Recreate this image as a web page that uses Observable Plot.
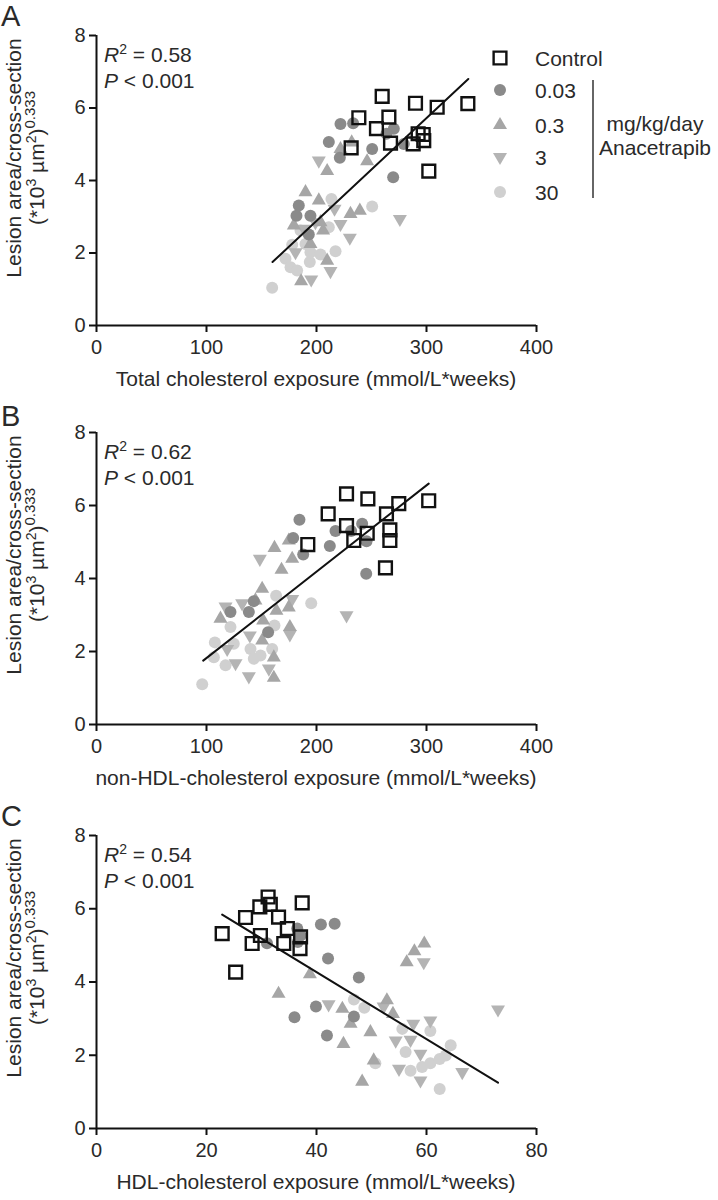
<!DOCTYPE html>
<html>
<head>
<meta charset="utf-8">
<script src="https://cdn.jsdelivr.net/npm/d3@7"></script>
<script src="https://cdn.jsdelivr.net/npm/@observablehq/plot@0.6"></script>
<style>
  html, body { margin: 0; padding: 0; background: #fff; }
  #wrap { position: relative; width: 718px; height: 1200px; overflow: hidden; }
  #wrap svg { position: absolute; left: 0; }
</style>
</head>
<body>
<div id="wrap"></div>
<script>
// ---------- DATA ----------
const groups = ["Control", "0.03", "0.3", "3", "30"];
const doseUnit = ["mg/kg/day", "Anacetrapib"];
const yTicks = [0, 2, 4, 6, 8];

// Panel A: total cholesterol exposure vs lesion area
const A_xTicks = [0, 100, 200, 300, 400];
const A_control = [[259.7,6.32],[290,6.13],[309.7,6.02],[337.6,6.12],[238.5,5.73],[265.8,5.75],[254.5,5.43],[292.4,5.29],[297,5.27],[297.5,5.10],[287.9,5.01],[267.3,5.03],[231.5,4.90],[302.1,4.26]];
const A_d003 = [[221.8,5.56],[233.3,5.58],[270.3,5.43],[263.6,5.29],[279.4,5.01],[211.2,5.06],[250.6,4.87],[221.2,4.63],[269.7,4.09],[183.9,3.31],[181.8,3.03],[194.5,3.03],[193,2.51]];
const A_d03 = [[221.8,4.87],[232,5.05],[209.7,4.26],[246,4.53],[190,3.68],[202.1,3.45],[230.9,3.08],[239.4,3.17],[179.4,2.76],[206,2.62],[203.6,2.85],[209.7,1.79],[186,1.22],[194.5,2.25]];
const A_d3 = [[202.1,4.55],[216.4,3.22],[221.8,2.80],[230.3,2.42],[275.8,2.94],[180.9,2.02],[212.7,1.50],[195.2,1.27],[188.5,2.67],[199,2.85]];
const A_d30 = [[159.7,1.04],[171.8,1.84],[177.9,2.23],[176.4,1.61],[182.4,1.52],[193.9,1.75],[194.5,2.02],[203.6,1.96],[217.3,2.05],[211.2,2.71],[213.6,3.49],[250.6,3.28],[185.5,2.62],[190,2.25]];
const A_fit = [[160,1.75],[338,6.8]];
const A_stats = ["0.58", "0.001"];

// Panel B: non-HDL-cholesterol exposure vs lesion area
const B_xTicks = [0, 100, 200, 300, 400];
const B_control = [[227.3,6.32],[246.7,6.18],[274.8,6.05],[263.6,5.77],[210.6,5.77],[227.3,5.45],[246.1,5.24],[266.7,5.33],[266.7,5.04],[233.9,5.04],[192.1,4.93],[262.7,4.29],[302,6.13]];
const B_d003 = [[184.5,5.61],[241.5,5.5],[217.3,5.3],[231.5,5.3],[178.8,5.11],[245.5,5.02],[212.1,4.89],[187.9,4.66],[245.2,4.13],[121.8,3.08],[143,3.38],[138.5,3.08],[156,2.53]];
const B_d03 = [[161.8,4.84],[177.9,4.54],[168.2,4.24],[174.8,5.04],[150.6,3.72],[144.5,3.40],[163.6,3.12],[174.8,3.21],[151.5,2.85],[112.7,2.90],[150.6,2.30],[175.8,2.67],[161.2,1.84],[161.2,1.28]];
const B_d3 = [[148.5,4.54],[132.4,3.32],[117.3,3.23],[177.9,3.44],[139.4,2.44],[118.8,2.07],[126.4,1.68],[138.5,1.32],[156.7,1.53],[175.8,2.47],[227.3,2.99]];
const B_d30 = [[96.1,1.10],[106.7,1.84],[107.6,2.25],[117.3,1.62],[124.8,2.21],[140,2.07],[143,1.80],[149.1,1.89],[159.7,2.07],[161.8,2.71],[163.3,3.53],[195.2,3.32],[121.8,2.67]];
const B_fit = [[97,1.75],[302,6.6]];
const B_stats = ["0.62", "0.001"];

// Panel C: HDL-cholesterol exposure vs lesion area
const C_xTicks = [0, 20, 40, 60, 80];
const C_control = [[22.85,5.32],[25.3,4.27],[27.1,5.76],[28.3,5.05],[29.7,6.05],[29.8,5.27],[31.2,6.32],[31.6,6.12],[33.1,5.77],[34.7,5.46],[34.05,5.05],[37.4,6.16],[37,4.91],[37.1,5.23]];
const C_d003 = [[36.5,5.46],[37.1,5.27],[36.6,5.09],[40.8,5.57],[43.3,5.59],[31,5.06],[42.1,4.64],[47.7,4.12],[39.9,3.33],[36,3.04],[46.8,3.06],[41.9,2.54]];
const C_d03 = [[59.6,5.05],[57.8,4.84],[56.4,4.54],[38.8,4.21],[33.1,3.68],[44.7,3.27],[52.8,3.50],[53.9,3.13],[46.2,2.86],[49.8,2.63],[44.9,2.31],[50.4,1.86],[48.3,1.28]];
const C_d3 = [[59.5,4.54],[42.2,3.39],[52.2,3.33],[57.6,2.86],[60.7,2.95],[54.4,2.40],[57.1,2.42],[58.9,2.04],[55,1.63],[58.9,1.31],[66.5,1.54],[73,3.25]];
const C_d30 = [[46.8,3.52],[48.7,3.30],[55.6,2.72],[60.7,2.66],[56.2,2.09],[57.1,1.58],[59.2,1.68],[60.7,1.78],[62.4,1.90],[63.5,1.99],[64.4,2.27],[62.4,1.08],[50.7,1.78]];
const C_fit = [[22.85,5.84],[73,1.25]];
const C_stats = ["0.54", "0.001"];

// ---------- DRAWING ----------
const FONT = "'Liberation Sans', Arial, Helvetica, sans-serif";
const TXT = "#2a2a2a";
const colors = {"Control": "#111", "0.03": "#8a8a8a", "0.3": "#a6a6a6", "3": "#b4b4b4", "30": "#d0d0d0"};
const downTriangle = {
  draw(ctx, size) {
    const y = Math.sqrt(size / (3 * Math.sqrt(3)));
    ctx.moveTo(0, 2 * y);
    ctx.lineTo(Math.sqrt(3) * y, -y);
    ctx.lineTo(-Math.sqrt(3) * y, -y);
    ctx.closePath();
  }
};
const toObj = arr => arr.map(([x, y]) => ({x, y}));

const panels = [
  {letter: "A", top: 0, mt: 35, mb: 75, xTicks: A_xTicks, xLabel: "Total cholesterol exposure (mmol/L*weeks)",
   sets: [A_control, A_d003, A_d03, A_d3, A_d30], fit: A_fit, stats: A_stats, legend: true},
  {letter: "B", top: 400, mt: 32, mb: 76, xTicks: B_xTicks, xLabel: "non-HDL-cholesterol exposure (mmol/L*weeks)",
   sets: [B_control, B_d003, B_d03, B_d3, B_d30], fit: B_fit, stats: B_stats},
  {letter: "C", top: 800, mt: 35, mb: 72, xTicks: C_xTicks, xLabel: "HDL-cholesterol exposure (mmol/L*weeks)",
   sets: [C_control, C_d003, C_d03, C_d3, C_d30], fit: C_fit, stats: C_stats}
];

const wrap = document.getElementById("wrap");

function addText(sel, x, y, size, anchor) {
  return sel.append("text").attr("x", x).attr("y", y).attr("font-size", size)
    .attr("fill", TXT).attr("font-family", FONT).attr("text-anchor", anchor || "start");
}

for (const p of panels) {
  const H = 400;
  const [ctl, g003, g03, g3, g30] = p.sets.map(toObj);
  const xMax = p.xTicks[p.xTicks.length - 1];
  const svgEl = Plot.plot({
    width: 718, height: H,
    marginLeft: 96, marginRight: 182, marginTop: p.mt, marginBottom: p.mb,
    style: {fontFamily: FONT, fontSize: "20px", color: TXT, background: "white", overflow: "visible"},
    x: {domain: [0, xMax]},
    y: {domain: [0, 8]},
    marks: [
      Plot.axisX({ticks: p.xTicks, tickSize: 7, tickPadding: 7, stroke: "#111", strokeWidth: 2, label: null, tickFormat: d => String(d)}),
      Plot.axisY({ticks: yTicks, tickSize: 7, tickPadding: 4, stroke: "#111", strokeWidth: 2, label: null, tickFormat: d => String(d)}),
      Plot.ruleY([0], {stroke: "#111", strokeWidth: 2}),
      Plot.ruleX([0], {stroke: "#111", strokeWidth: 2}),
      Plot.dot(g30, {x: "x", y: "y", symbol: "circle", r: 6, fill: colors["30"]}),
      Plot.dot(g3, {x: "x", y: "y", symbol: downTriangle, r: 5.2, fill: colors["3"]}),
      Plot.dot(g03, {x: "x", y: "y", symbol: "triangle", r: 5.2, fill: colors["0.3"]}),
      Plot.dot(g003, {x: "x", y: "y", symbol: "circle", r: 6, fill: colors["0.03"]}),
      Plot.dot(ctl, {x: "x", y: "y", symbol: "square", r: 7.2, fill: "none", stroke: "#111", strokeWidth: 2.4}),
      Plot.line(toObj(p.fit), {x: "x", y: "y", stroke: "#111", strokeWidth: 2})
    ]
  });
  svgEl.style.top = p.top + "px";
  wrap.appendChild(svgEl);
  const svg = d3.select(svgEl);
  const plotTop = p.mt, plotBottom = H - p.mb;

  // panel letter
  addText(svg, 1, 26, 29).text(p.letter);

  // x-axis title
  addText(svg, 96 + 220, plotBottom + 61, 21, "middle").text(p.xLabel);

  // y-axis title (two lines)
  const cy = plotTop + 123;
  svg.append("text").attr("transform", `translate(21,${cy}) rotate(-90)`).attr("text-anchor", "middle")
    .attr("font-size", 21).attr("fill", TXT).attr("font-family", FONT).text("Lesion area/cross-section");
  const t2 = svg.append("text").attr("transform", `translate(44,${cy}) rotate(-90)`).attr("text-anchor", "middle")
    .attr("font-size", 21).attr("fill", TXT).attr("font-family", FONT);
  t2.append("tspan").text("(*10");
  t2.append("tspan").attr("dy", -8).attr("font-size", 14).text("3");
  t2.append("tspan").attr("dy", 8).text(" µm");
  t2.append("tspan").attr("dy", -8).attr("font-size", 14).text("2");
  t2.append("tspan").attr("dy", 8).text(")");
  t2.append("tspan").attr("dy", -9).attr("font-size", 15).text("0.333");

  // statistics
  const s1 = addText(svg, 104, plotTop + 27, 21);
  s1.append("tspan").attr("font-style", "italic").text("R");
  s1.append("tspan").attr("dy", -8).attr("font-size", 14).text("2");
  s1.append("tspan").attr("dy", 8).text(" = " + p.stats[0]);
  const s2 = addText(svg, 104, plotTop + 53, 21);
  s2.append("tspan").attr("font-style", "italic").text("P");
  s2.append("tspan").text(" < " + p.stats[1]);

  if (p.legend) {
    const rows = [58, 90, 125, 157, 192];
    const sym = [d3.symbolSquare, d3.symbolCircle, d3.symbolTriangle, downTriangle, d3.symbolCircle];
    const sz = [7.2, 6, 5.2, 5.2, 6];
    groups.forEach((g, i) => {
      const path = d3.symbol(sym[i], Math.PI * sz[i] * sz[i])();
      const el = svg.append("path").attr("d", path).attr("transform", `translate(500,${rows[i]})`);
      if (i === 0) el.attr("fill", "none").attr("stroke", "#111").attr("stroke-width", 2.4);
      else el.attr("fill", colors[g]);
      addText(svg, 535, rows[i] + 7.5, 21).text(g);
    });
    svg.append("line").attr("x1", 593).attr("x2", 593).attr("y1", 80).attr("y2", 198)
      .attr("stroke", "#333").attr("stroke-width", 1.5);
    addText(svg, 655, 131, 21, "middle").text(doseUnit[0]);
    addText(svg, 655, 155, 21, "middle").text(doseUnit[1]);
  }
}
</script>
</body>
</html>
